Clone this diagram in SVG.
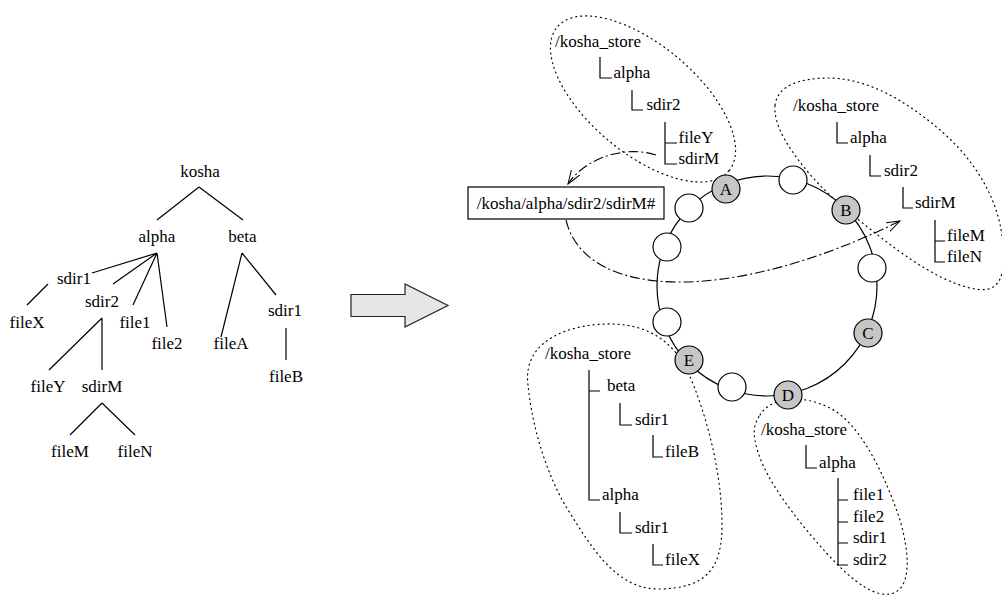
<svg xmlns="http://www.w3.org/2000/svg" width="1002" height="595" viewBox="0 0 1002 595">
<style>
text{font-family:"Liberation Serif","Times New Roman",serif;font-size:17px;fill:#000}
.m{text-anchor:middle}
.ln{stroke:#000;stroke-width:1.2;fill:none}
.dot{stroke:#000;stroke-width:1.2;fill:none;stroke-dasharray:1,4;stroke-linecap:round}
.dd{stroke:#000;stroke-width:1.1;fill:none;stroke-dasharray:10,3,2,3}
.g{fill:#c6c6c6;stroke:#000;stroke-width:1.2}
.w{fill:#fff;stroke:#000;stroke-width:1.2}
</style>
<defs>
<marker id="ah" markerUnits="userSpaceOnUse" markerWidth="18" markerHeight="12" refX="14" refY="5" orient="auto">
<path d="M0,0 L14,5 L0,10" fill="none" stroke="#000" stroke-width="1"/>
</marker>
</defs>
<rect width="1002" height="595" fill="#fff"/>

<!-- dotted store regions -->
<g id="regions">
<ellipse class="dot" cx="643" cy="99" rx="112" ry="54" transform="rotate(40 643 99)"/>
<path class="dot" d="M775,105 C778,85 800,78 830,78 C868,79 905,100 940,130 C975,160 1000,200 1003,245 C1006,285 995,294 970,288 C930,278 890,245 850,213 C820,188 800,165 785,140 C778,128 774,115 775,105 Z"/>
<path class="dot" d="M528,385 C522,340 570,325 605,324 C640,323 670,335 688,372 C705,410 722,470 722,525 C722,570 705,588 660,589 C615,590 590,545 565,505 C545,470 532,425 528,385 Z"/>
<path class="dot" d="M760,415 C770,398 800,393 830,408 C860,423 885,475 900,520 C910,555 912,590 890,594 C870,597 845,575 815,540 C785,505 760,470 755,440 C753,430 755,422 760,415 Z"/>
</g>

<g id="connectors">
<!-- left tree -->
<path class="ln" d="M199,187 L157,220 M199,187 L243,220"/>
<path class="ln" d="M157,253 L92,273 M157,253 L113,284 M157,253 L133,305 M157,253 L167,327"/>
<path class="ln" d="M48,284 L27,305"/>
<path class="ln" d="M102,318 L49,370 M102,318 L102,370"/>
<path class="ln" d="M242,253 L221,337 M242,253 L276,295"/>
<path class="ln" d="M286,328 L286,360"/>
<path class="ln" d="M102,403 L70,435 M102,403 L135,435"/>
<!-- ring -->
<circle class="ln" cx="767" cy="286" r="110"/>
<!-- dash-dot lookups -->
<path class="dd" d="M656,155 C625,145 585,158 568,184" marker-end="url(#ah)"/>
<path class="dd" d="M566,220 C585,300 730,305 900,221" marker-end="url(#ah)"/>
<!-- store tree connectors -->
<path class="ln" d="M600,57 V78 H612 M632,90 V110 H643 M665,122 V164 H677 M665,143 H677"/>
<path class="ln" d="M837,122 V143 H848 M870,155 V176 H881 M903,187 V208 H913 M935,220 V262 H945 M935,241 H945"/>
<path class="ln" d="M589,370 V500 H600 M589,391 H600 M620,403 V425 H632 M653,435 V457 H663 M620,512 V533 H632 M653,544 V565 H663"/>
<path class="ln" d="M806,445 V468 H817 M838,478 V565 H848 M838,500 H848 M838,522 H848 M838,543 H848"/>
</g>

<g id="arrow">
<polygon points="351,294.5 405,294.5 405,284 448,305.5 405,327 405,316.5 351,316.5" fill="#e6e6e6" stroke="#222" stroke-width="1.2"/>
</g>

<g id="tree">
<g id="t-kosha"><text class="m" x="200" y="177">kosha</text></g>
<g id="t-alpha"><text class="m" x="157" y="242">alpha</text></g>
<g id="t-beta"><text class="m" x="242.5" y="242">beta</text></g>
<g id="t-sdir1a"><text class="m" x="74" y="284">sdir1</text></g>
<g id="t-sdir2"><text class="m" x="102" y="307">sdir2</text></g>
<g id="t-fileX"><text class="m" x="27" y="328">fileX</text></g>
<g id="t-file1"><text class="m" x="135" y="328">file1</text></g>
<g id="t-file2"><text class="m" x="167" y="349">file2</text></g>
<g id="t-fileA"><text class="m" x="231" y="349">fileA</text></g>
<g id="t-sdir1b"><text class="m" x="285" y="316">sdir1</text></g>
<g id="t-fileB"><text class="m" x="286" y="382">fileB</text></g>
<g id="t-fileY"><text class="m" x="48" y="392">fileY</text></g>
<g id="t-sdirM"><text class="m" x="102" y="392">sdirM</text></g>
<g id="t-fileM"><text class="m" x="70" y="457">fileM</text></g>
<g id="t-fileN"><text class="m" x="135" y="457">fileN</text></g>
</g>

<g id="path-box">
<rect x="468" y="187" width="196" height="32" fill="#fff" stroke="#000" stroke-width="1.2"/>
<text class="m" x="566" y="209">/kosha/alpha/sdir2/sdirM#</text>
</g>

<g id="store-A">
<text x="555" y="47">/kosha_store</text>
<text x="613.5" y="78">alpha</text>
<text x="646.5" y="110">sdir2</text>
<text x="678.5" y="143">fileY</text>
<text x="678.5" y="164">sdirM</text>
</g>
<g id="store-B">
<text x="793" y="111">/kosha_store</text>
<text x="850" y="143">alpha</text>
<text x="884" y="176">sdir2</text>
<text x="915" y="208">sdirM</text>
<text x="947" y="241">fileM</text>
<text x="947" y="262">fileN</text>
</g>
<g id="store-E">
<text x="545" y="359">/kosha_store</text>
<text x="607" y="391">beta</text>
<text x="635" y="425">sdir1</text>
<text x="665" y="457">fileB</text>
<text x="602" y="500">alpha</text>
<text x="635" y="533">sdir1</text>
<text x="665" y="565">fileX</text>
</g>
<g id="store-D">
<text x="761" y="435">/kosha_store</text>
<text x="819" y="468">alpha</text>
<text x="853" y="500">file1</text>
<text x="853" y="522">file2</text>
<text x="853" y="543">sdir1</text>
<text x="853" y="565">sdir2</text>
</g>

<g id="ring-nodes">
<g id="n1"><circle class="w" cx="793" cy="180" r="14"/></g>
<g id="n2"><circle class="w" cx="872" cy="268" r="14"/></g>
<g id="n3"><circle class="w" cx="732" cy="387" r="14"/></g>
<g id="n4"><circle class="w" cx="667" cy="322" r="14"/></g>
<g id="n5"><circle class="w" cx="667" cy="247" r="14"/></g>
<g id="n6"><circle class="w" cx="689" cy="208" r="14"/></g>
<g id="node-A"><circle class="g" cx="726" cy="189" r="14"/><text class="m" x="726" y="195">A</text></g>
<g id="node-B"><circle class="g" cx="846" cy="210" r="14"/><text class="m" x="846" y="216">B</text></g>
<g id="node-C"><circle class="g" cx="868" cy="333" r="14"/><text class="m" x="868" y="339">C</text></g>
<g id="node-D"><circle class="g" cx="788" cy="395" r="14"/><text class="m" x="788" y="401">D</text></g>
<g id="node-E"><circle class="g" cx="689" cy="360" r="14"/><text class="m" x="689" y="366">E</text></g>
</g>
</svg>
